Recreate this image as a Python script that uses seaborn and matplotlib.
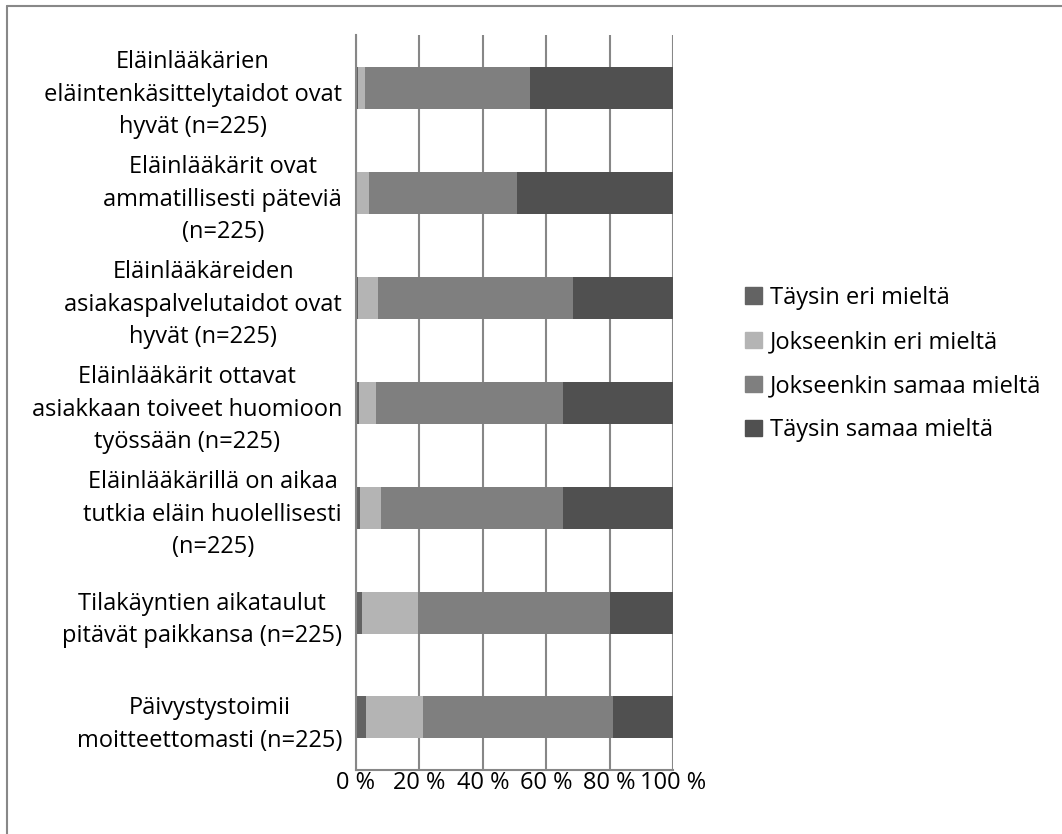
import seaborn as sns
import matplotlib.pyplot as plt
import matplotlib.patches as mpatches
from matplotlib.lines import Line2D
import pandas as pd

sns.set_style("white")
plt.rcParams['font.family'] = ['Open Sans', 'DejaVu Sans']
plt.rcParams['text.color'] = 'black'
plt.rcParams['xtick.color'] = 'black'
plt.rcParams['ytick.color'] = 'black'

kategoriat = [
    "Eläinlääkärien\neläintenkäsittelytaidot ovat\nhyvät (n=225)",
    "Eläinlääkärit ovat\nammatillisesti päteviä\n(n=225)",
    "Eläinlääkäreiden\nasiakaspalvelutaidot ovat\nhyvät (n=225)",
    "Eläinlääkärit ottavat\nasiakkaan toiveet huomioon\ntyössään (n=225)",
    "Eläinlääkärillä on aikaa\ntutkia eläin huolellisesti\n(n=225)",
    "Tilakäyntien aikataulut\npitävät paikkansa (n=225)",
    "Päivystystoimii\nmoitteettomasti (n=225)",
]
sarjat = ["Täysin eri mieltä", "Jokseenkin eri mieltä",
          "Jokseenkin samaa mieltä", "Täysin samaa mieltä"]
taysin_eri = [0.5, 0.0, 0.5, 0.8, 1.3, 2.0, 3.0]
jokseenkin_eri = [2.3, 4.1, 6.3, 5.5, 6.7, 17.6, 18.1]
jokseenkin_samaa = [52.0, 46.6, 61.5, 58.9, 57.2, 60.4, 59.9]
taysin_samaa = [45.2, 49.3, 31.7, 34.8, 34.8, 20.0, 19.0]
varit = ['#636363', '#b4b4b4', '#7f7f7f', '#505050']
xtikit = [0, 20, 40, 60, 80, 100]
xnimet = ["0 %", "20 %", "40 %", "60 %", "80 %", "100 %"]

df = pd.DataFrame({"kysymys": kategoriat, sarjat[0]: taysin_eri, sarjat[1]: jokseenkin_eri,
                   sarjat[2]: jokseenkin_samaa, sarjat[3]: taysin_samaa})
kum = df[sarjat].cumsum(axis=1)
kum = kum.div(kum[sarjat[-1]], axis=0) * 100
kum["kysymys"] = df["kysymys"]

fig = plt.figure(figsize=(10.62, 8.34), dpi=100)
ax = fig.add_axes([356 / 1062, 1 - 770 / 834, (673 - 356) / 1062, (770 - 35) / 834])

# piirretään kumulatiiviset palkit takaperin
for s, c in reversed(list(zip(sarjat, varit))):
    sns.barplot(data=kum, x=s, y="kysymys", color=c, width=0.4, orient="h",
                ax=ax, saturation=1, linewidth=0, zorder=3)

fs = 17
ax.set_xlim(0, 100)
ax.set_ylim(6.5, -0.5)
ax.set_xticks(xtikit)
ax.set_xticklabels(xnimet, fontsize=fs)
ax.set_yticks(range(len(kategoriat)))
ax.set_yticklabels(kategoriat, fontsize=fs, multialignment='center', linespacing=1.45)
ax.set_yticks([i - 0.5 for i in range(len(kategoriat) + 1)], minor=True)
ax.tick_params(axis='y', which='major', length=0, pad=10)
ax.tick_params(axis='y', which='minor', length=7, width=1.5, color='#878787', direction='out')
ax.tick_params(axis='x', length=7, width=1.5, color='#878787', direction='out', pad=-6)
ax.set_xlabel("")
ax.set_ylabel("")
ax.xaxis.grid(True, color='#878787', linewidth=1.5, zorder=0)
ax.set_axisbelow(True)
for k in ['top', 'right']:
    ax.spines[k].set_visible(False)
for k in ['left', 'bottom']:
    ax.spines[k].set_color('#878787')
    ax.spines[k].set_linewidth(1.5)
    ax.spines[k].set_zorder(4)

kahvat = [mpatches.Patch(color=c, label=s) for s, c in zip(sarjat, varit)]
fig.legend(handles=kahvat, loc='upper left', bbox_to_anchor=(745 / 1062, 1 - 286 / 834),
           frameon=False, fontsize=fs, handlelength=0.7, handleheight=0.7,
           handletextpad=0.35, labelspacing=0.85, borderpad=0, borderaxespad=0)

# kuvan kehys
fig.add_artist(Line2D([7 / 1062, 1], [1 - 6 / 834, 1 - 6 / 834], color='#888888', lw=1.5))
fig.add_artist(Line2D([7 / 1062, 7 / 1062], [0, 1 - 6 / 834], color='#888888', lw=1.5))

fig.savefig("out.png", dpi=100)
